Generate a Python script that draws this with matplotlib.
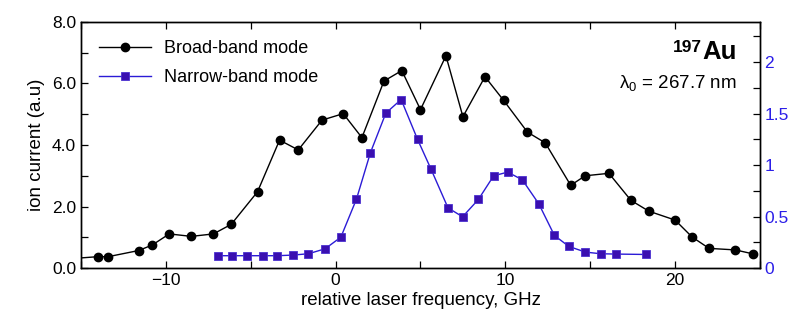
import matplotlib
matplotlib.use("Agg")
import matplotlib.pyplot as plt
import matplotlib.ticker as mticker

plt.rcParams.update({
    "font.family": ["Liberation Sans", "DejaVu Sans"],
    "font.size": 12.5,
    "mathtext.fontset": "custom",
    "mathtext.rm": "Liberation Sans",
    "mathtext.it": "Liberation Sans",
    "mathtext.bf": "Liberation Sans:bold",
})

# ---------------------------------------------------------------------------
# Data
# ---------------------------------------------------------------------------
broad_x = [-16.0, -14.0, -13.4, -11.6, -10.8, -9.8, -8.5, -7.2, -6.15, -4.6,
           -3.3, -2.2, -0.8, 0.45, 1.55, 2.85, 3.9, 5.0, 6.5, 7.5,
           8.8, 9.9, 11.3, 12.35, 13.85, 14.7, 16.1, 17.4, 18.45, 20.0,
           21.0, 22.0, 23.55, 24.6]
broad_y = [0.29, 0.37, 0.37, 0.57, 0.75, 1.11, 1.03, 1.11, 1.42, 2.48,
           4.16, 3.84, 4.81, 5.02, 4.24, 6.08, 6.42, 5.15, 6.90, 4.92,
           6.22, 5.45, 4.42, 4.07, 2.69, 3.00, 3.08, 2.20, 1.85, 1.56,
           1.01, 0.64, 0.59, 0.46]

narrow_x = [-6.93, -6.1, -5.2, -4.3, -3.43, -2.53, -1.6, -0.62, 0.31, 1.23,
            2.05, 2.96, 3.86, 4.83, 5.62, 6.62, 7.48, 8.41, 9.31, 10.14,
            11.0, 11.97, 12.89, 13.74, 14.72, 15.62, 16.49, 18.3]
narrow_y = [0.12, 0.12, 0.12, 0.12, 0.12, 0.126, 0.139, 0.187, 0.30, 0.67,
            1.12, 1.505, 1.637, 1.249, 0.961, 0.585, 0.498, 0.666, 0.896, 0.932,
            0.857, 0.624, 0.317, 0.21, 0.155, 0.139, 0.136, 0.132]

BLUE_LINE = "#2B1BD6"
BLUE_FILL = "#3A0FB0"
BLUE_TEXT = "#2B1EE8"

# ---------------------------------------------------------------------------
# Figure
# ---------------------------------------------------------------------------
fig = plt.figure(figsize=(7.9, 3.33), dpi=100)
ax = fig.add_axes([0.1025, 0.195, 0.8595, 0.739])
ax2 = ax.twinx()

l1, = ax.plot(broad_x, broad_y, "-o", color="black", lw=1.0, ms=6,
              label="Broad-band mode")
l2, = ax2.plot(narrow_x, narrow_y, "-s", color=BLUE_LINE, lw=1.0, ms=6,
               mfc=BLUE_FILL, mec="#4A30D0", mew=0.6, label="Narrow-band mode")

ax.set_xlim(-15, 25)
ax.set_ylim(0, 8)
ax2.set_ylim(0, 2.39)

ax.xaxis.set_major_locator(mticker.MultipleLocator(10))
ax.xaxis.set_minor_locator(mticker.MultipleLocator(5))
ax.yaxis.set_major_locator(mticker.MultipleLocator(2))
ax.yaxis.set_minor_locator(mticker.MultipleLocator(1))
ax.yaxis.set_major_formatter(mticker.FormatStrFormatter("%.1f"))
ax.xaxis.set_major_formatter(mticker.FuncFormatter(
    lambda v, p: f"{v:.0f}".replace("-", "\u2212")))

ax2.yaxis.set_major_locator(mticker.MultipleLocator(0.5))
ax2.yaxis.set_minor_locator(mticker.MultipleLocator(0.25))
ax2.yaxis.set_major_formatter(mticker.FormatStrFormatter("%g"))

ax.tick_params(which="both", direction="in", top=True, right=False,
               length=5, width=0.9, labelsize=12.5)
ax2.tick_params(which="both", direction="in", length=5, width=0.9,
                labelsize=12.5, labelcolor=BLUE_TEXT, pad=3)

for a in (ax, ax2):
    for s in a.spines.values():
        s.set_linewidth(1.0)

ax.set_xlabel("relative laser frequency, GHz", fontsize=13.5, labelpad=3)
ax.set_ylabel("ion current (a.u)", fontsize=13.5, labelpad=5)

ax.legend(handles=[l1, l2], loc="upper left", frameon=False, fontsize=13,
          handlelength=2.9, handletextpad=0.7, labelspacing=0.68,
          bbox_to_anchor=(0.0, 1.0), borderaxespad=0.6)

# element label, lambda
ax.text(0.966, 0.848, "Au", transform=ax.transAxes,
        ha="right", va="baseline", fontsize=18.5, fontweight="bold")
ax.text(0.914, 0.879, "197", transform=ax.transAxes,
        ha="right", va="baseline", fontsize=12.5, fontweight="bold")
ax.text(0.966, 0.731, "\u03bb$_0$ = 267.7 nm", transform=ax.transAxes,
        ha="right", va="baseline", fontsize=13.5)

fig.savefig("out.png", dpi=100)
